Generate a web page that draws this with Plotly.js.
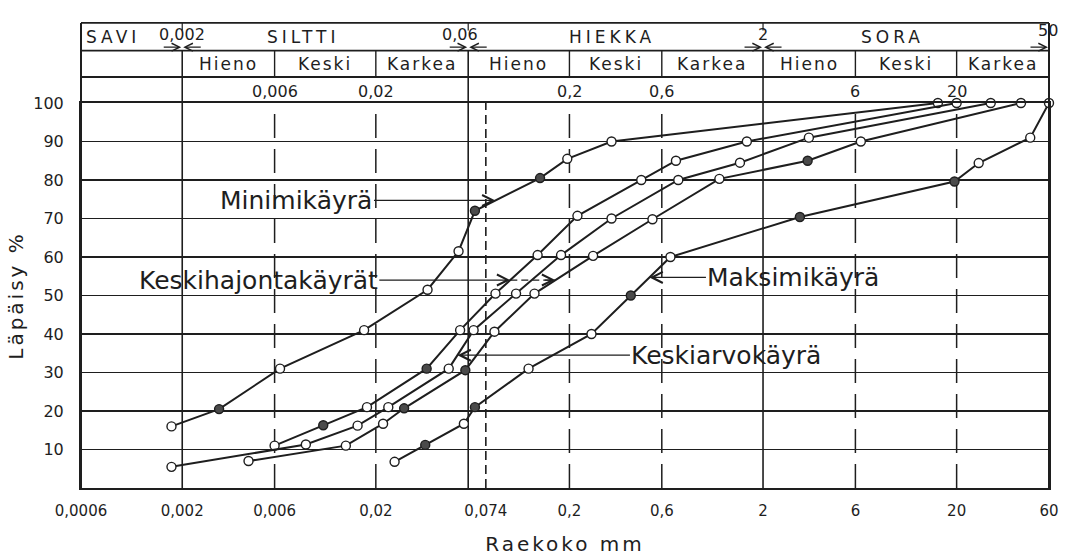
<!DOCTYPE html>
<html>
<head>
<meta charset="utf-8">
<script src="https://cdn.plot.ly/plotly-3.0.1.min.js"></script>
<style>
html,body{margin:0;padding:0;background:#fff;}
#chart{width:1069px;height:556px;}
.xtitle,.ytitle{letter-spacing:3px;}
</style>
</head>
<body>
<div id="chart"></div>
<script>
// ---------------- data ----------------
// Minimikäyrä
const minX = [0.00176, 0.0031, 0.0064, 0.0174, 0.037, 0.0535, 0.065, 0.141, 0.195, 0.33, 16];
const minY = [16, 20.5, 31, 41, 51.5, 61.5, 72, 80.5, 85.5, 90, 100];
const minFilled = [0, 1, 0, 0, 0, 0, 1, 1, 0, 0, 0];
// Keskihajontakäyrä (hienompi)
const sdFineX = [0.006, 0.0107, 0.018, 0.0366, 0.0545, 0.083, 0.137, 0.22, 0.47, 0.71, 1.65, 20];
const sdFineY = [11, 16.3, 21, 31, 41, 50.5, 60.5, 70.7, 80, 85, 90, 100];
const sdFineFilled = [0, 1, 0, 1, 0, 0, 0, 0, 0, 0, 0, 0];
// Keskiarvokäyrä
const meanX = [0.00176, 0.0087, 0.0161, 0.0232, 0.0476, 0.064, 0.106, 0.181, 0.33, 0.73, 1.52, 3.45, 30];
const meanY = [5.5, 11.3, 16.2, 21, 31, 41, 50.5, 60.5, 70, 80, 84.5, 91, 100];
const meanFilled = [0, 0, 0, 0, 0, 0, 0, 0, 0, 0, 0, 0, 0];
// Keskihajontakäyrä (karkeampi)
const sdCoarseX = [0.0044, 0.014, 0.0218, 0.028, 0.058, 0.082, 0.132, 0.265, 0.537, 1.19, 3.4, 6.4, 43];
const sdCoarseY = [7, 11, 16.7, 20.7, 30.6, 40.6, 50.5, 60.3, 69.8, 80.3, 85, 90, 100];
const sdCoarseFilled = [0, 0, 0, 1, 1, 0, 0, 0, 0, 0, 1, 0, 0];
// Maksimikäyrä
const maxX = [0.025, 0.036, 0.057, 0.065, 0.123, 0.26, 0.415, 0.665, 3.1, 19.5, 26, 48, 60];
const maxY = [6.8, 11.2, 16.7, 21, 31, 40, 50, 60, 70.4, 79.6, 84.4, 91, 100];
const maxFilled = [0, 1, 0, 1, 0, 0, 1, 0, 1, 1, 0, 0, 0];

// axes
const xMin = 0.0006, xMax = 60;
const xTickVals = [0.0006, 0.002, 0.006, 0.02, 0.074, 0.2, 0.6, 2, 6, 20, 60];
const xTickText = ['0,0006', '0,002', '0,006', '0,02', '0,074', '0,2', '0,6', '2', '6', '20', '60'];
const yTickVals = [10, 20, 30, 40, 50, 60, 70, 80, 90, 100];
const yTickText = ['10', '20', '30', '40', '50', '60', '70', '80', '90', '100'];

// grain size classification (header)
const mainClasses = ['SAVI', 'SILTTI', 'HIEKKA', 'SORA'];
const classBounds = [0.002, 0.06, 2];
const classBoundLabels = ['0,002', '0,06', '2'];
const gravelTopLabel = '50';
const subBounds = [0.006, 0.02, 0.2, 0.6, 6, 20];
const subBoundLabels = ['0,006', '0,02', '0,2', '0,6', '6', '20'];
const cellBounds = [0.002, 0.006, 0.02, 0.06, 0.2, 0.6, 2, 6, 20, 60];
const cellNames = ['Hieno', 'Keski', 'Karkea', 'Hieno', 'Keski', 'Karkea', 'Hieno', 'Keski', 'Karkea'];
const sieveSize = 0.074;

// curve labels
const labelMin = 'Minimikäyrä';
const labelSd = 'Keskihajontakäyrät';
const labelMax = 'Maksimikäyrä';
const labelMean = 'Keskiarvokäyrä';

// ---------------- drawing ----------------
const ink = '#1e1e1e';
const L = Math.log10;
const FONT = 'DejaVu Sans, Liberation Sans, sans-serif';

function interpLog(xs, ys, x) {
  const lx = L(x);
  for (let i = 0; i < xs.length - 1; i++) {
    const a = L(xs[i]), b = L(xs[i + 1]);
    if (lx >= a && lx <= b) return ys[i] + (ys[i + 1] - ys[i]) * (lx - a) / (b - a);
  }
  return null;
}

const curves = [
  [minX, minY, minFilled],
  [sdFineX, sdFineY, sdFineFilled],
  [meanX, meanY, meanFilled],
  [sdCoarseX, sdCoarseY, sdCoarseFilled],
  [maxX, maxY, maxFilled]
];
const traces = curves.map(c => ({
  type: 'scatter', mode: 'lines+markers', x: c[0], y: c[1],
  line: {color: ink, width: 2},
  marker: {size: 9, symbol: 'circle', color: c[2].map(f => f ? '#4a4a4a' : '#ffffff'),
           line: {color: ink, width: 1.4}},
  cliponaxis: false, hoverinfo: 'skip', showlegend: false
}));

// header rows (paper units above the plot)
const P_TOP = 1.208, P_R1 = 1.136, P_R2 = 1.0675;
const shapes = [];
const hl = (y) => shapes.push({type: 'line', xref: 'paper', yref: 'paper', x0: 0, x1: 1, y0: y, y1: y, line: {color: ink, width: 1.8}});
hl(P_TOP); hl(P_R1); hl(P_R2);
[0, 1].forEach(x => shapes.push({type: 'line', xref: 'paper', yref: 'paper', x0: x, x1: x, y0: 0, y1: P_TOP, line: {color: ink, width: 2}}));
classBounds.forEach(b => {
  shapes.push({type: 'line', xref: 'x', yref: 'paper', x0: b, x1: b, y0: 1, y1: P_R1, line: {color: ink, width: 1.6}});
  shapes.push({type: 'line', xref: 'x', yref: 'paper', x0: b, x1: b, y0: P_TOP, y1: P_TOP - 0.02, line: {color: ink, width: 1.2}});
  shapes.push({type: 'line', xref: 'x', yref: 'y', x0: b, x1: b, y0: 0, y1: 100, line: {color: ink, width: 1.6}, layer: 'below'});
});
subBounds.forEach(b => {
  shapes.push({type: 'line', xref: 'x', yref: 'paper', x0: b, x1: b, y0: P_R2, y1: P_R1, line: {color: ink, width: 1.4}});
  shapes.push({type: 'line', xref: 'x', yref: 'y', x0: b, x1: b, y0: 0, y1: 100, line: {color: ink, width: 1.5, dash: '24px,11px'}, layer: 'below'});
});
shapes.push({type: 'line', xref: 'x', yref: 'y', x0: sieveSize, x1: sieveSize, y0: 0, y1: 100, line: {color: ink, width: 1.6, dash: '9px,5px'}, layer: 'below'});

const annotations = [];
const rowFont = {family: FONT, size: 17, color: ink};
const numFont = {family: FONT, size: 16, color: ink};
const yRow1 = 1.172, yRow2 = (P_R1 + P_R2) / 2, yRow3 = 1.031;
const hdr = (o) => Object.assign({xref: 'x', yref: 'paper', showarrow: false, yanchor: 'middle'}, o);
// row 1: main classes
const mainPos = [L(xMin), -2.075, -0.479, 0.972];
mainClasses.forEach((t, i) => annotations.push(hdr({
  text: t, x: mainPos[i], y: yRow1,
  xanchor: i === 0 ? 'left' : 'center', xshift: i === 0 ? 11 : 0, font: {family: FONT, size: 17, color: ink}
})));
classBounds.forEach((b, i) => annotations.push(hdr({
  text: classBoundLabels[i], x: L(b), y: yRow1 + 0.006, xanchor: 'center', xshift: i === 1 ? -8 : 0, font: numFont
})));
annotations.push(hdr({text: gravelTopLabel, x: L(xMax), y: yRow1 + 0.016, xanchor: 'center', xshift: -1, font: numFont}));
// row 1 arrows pointing at boundaries
const arrowY = P_R1 + 0.009;
classBounds.concat([xMax]).forEach(b => {
  [-1, 1].forEach(s => {
    if (b === xMax && s === 1) return;
    annotations.push({text: '', x: L(b), y: arrowY, xref: 'x', yref: 'paper', showarrow: true,
      ax: s * 20, ay: 0, arrowhead: 5, arrowsize: 1.3, arrowwidth: 1.2, arrowcolor: ink, standoff: 1});
  });
});
// row 2: sub class names
cellNames.forEach((t, i) => annotations.push(hdr({
  text: t, x: (L(cellBounds[i]) + L(cellBounds[i + 1])) / 2, y: yRow2, xanchor: 'center', font: rowFont
})));
// row 3: sub boundaries
subBounds.forEach((b, i) => annotations.push(hdr({
  text: subBoundLabels[i], x: L(b), y: yRow3, xanchor: 'center', font: numFont
})));

// curve labels with pointers
const bigFont = {family: FONT, size: 25, color: ink};
const arrowStyle = {arrowhead: 5, arrowsize: 1.8, arrowwidth: 1.2, arrowcolor: ink, standoff: 0};
const tipMin = 0.083, tipSdA = 0.099, tipSdB = 0.169, tipMax = 0.518, tipMean = 0.0528;
const ySd = interpLog(sdFineX, sdFineY, tipSdA);
annotations.push(Object.assign({text: labelMin, x: L(tipMin), y: interpLog(minX, minY, tipMin), ax: -199, ay: 0, font: bigFont, showarrow: true}, arrowStyle));
annotations.push(Object.assign({text: labelSd, x: L(tipSdA), y: ySd, ax: -252, ay: 0, font: bigFont, showarrow: true}, arrowStyle));
annotations.push(Object.assign({text: '', x: L(tipSdB), y: ySd, ax: -12, ay: 0, showarrow: true}, arrowStyle));
shapes.push({type: 'line', xref: 'x', yref: 'y', x0: tipSdA, x1: tipSdB, y0: ySd, y1: ySd, line: {color: ink, width: 1.2, dash: '7px,4px'}});
annotations.push(Object.assign({text: labelMax, x: L(tipMax), y: interpLog(maxX, maxY, tipMax), ax: 144, ay: 0, font: bigFont, showarrow: true}, arrowStyle));
annotations.push(Object.assign({text: labelMean, x: L(tipMean), y: interpLog(meanX, meanY, tipMean), ax: 269, ay: 0, font: bigFont, showarrow: true}, arrowStyle));

const layout = {
  width: 1069, height: 556,
  margin: {l: 81, r: 20, t: 103, b: 68},
  paper_bgcolor: '#ffffff', plot_bgcolor: '#ffffff',
  font: {family: FONT, color: ink, size: 16},
  showlegend: false,
  xaxis: {type: 'log', range: [L(xMin), L(xMax)], tickmode: 'array', tickvals: xTickVals, ticktext: xTickText,
    showgrid: false, zeroline: false, showline: true, mirror: true, linecolor: ink, linewidth: 2,
    ticks: '', tickfont: {size: 15, color: ink}, ticklabelstandoff: 8,
    title: {text: 'Raekoko mm', font: {size: 20, color: ink}, standoff: 18}, fixedrange: true},
  yaxis: {range: [0, 100], tickmode: 'array', tickvals: yTickVals, ticktext: yTickText,
    showgrid: true, gridcolor: ink, gridwidth: 1.4, zeroline: false, showline: true, mirror: true,
    linecolor: ink, linewidth: 2, ticks: '', tickfont: {size: 16, color: ink}, ticklabelstandoff: 12,
    title: {text: 'Läpäisy %', font: {size: 20, color: ink}, standoff: 4}, fixedrange: true},
  shapes: shapes,
  annotations: annotations
};

const spaced = new Set(mainClasses.concat(['Hieno', 'Keski', 'Karkea']));
Plotly.newPlot('chart', traces, layout, {staticPlot: true, displayModeBar: false}).then(gd => {
  gd.querySelectorAll('.annotation-text').forEach(t => {
    if (spaced.has(t.textContent)) t.style.letterSpacing = mainClasses.includes(t.textContent) ? '4px' : '2px';
  });
});
</script>
</body>
</html>
